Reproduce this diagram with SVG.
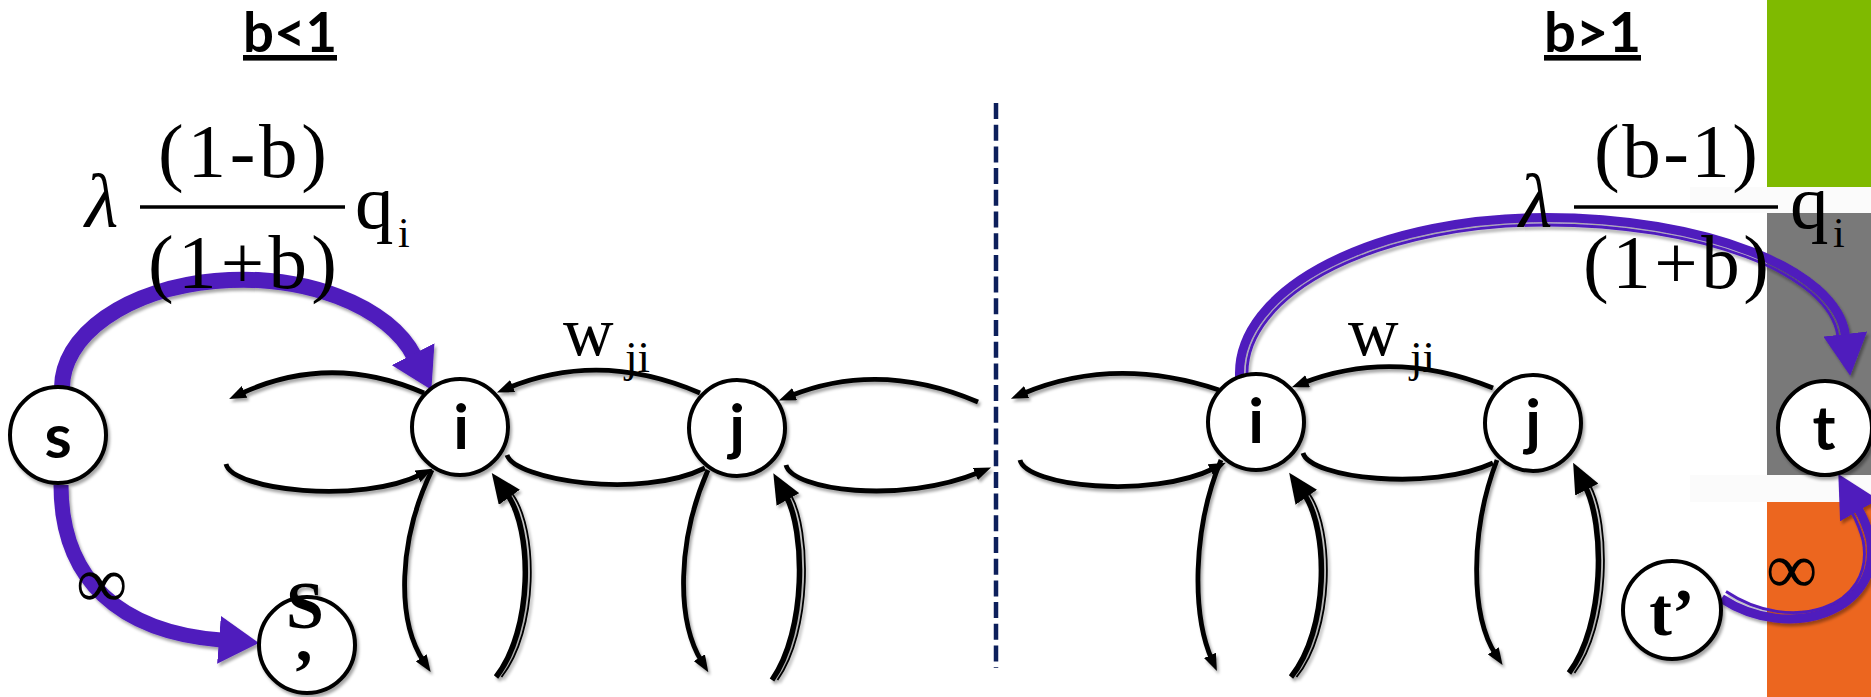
<svg xmlns="http://www.w3.org/2000/svg" width="1871" height="697" viewBox="0 0 1871 697">
<style>
.node{fill:#fff;stroke:#000;stroke-width:4}
.lbl{font-family:Lato,"Liberation Sans",sans-serif;font-weight:bold;font-size:62px;fill:#000;text-anchor:middle}
.slbl{font-family:"Liberation Serif","DejaVu Serif",serif;font-weight:bold;font-size:68px;fill:#000;text-anchor:middle}
.title{font-family:Lato,"Liberation Sans",sans-serif;font-weight:bold;font-size:56px;fill:#000;text-decoration:underline}
.m{font-family:"Liberation Serif","DejaVu Serif",serif;font-size:77px;fill:#000}
.sub{font-family:"Liberation Serif","DejaVu Serif",serif;font-size:42px;fill:#000}
.w{font-family:"Liberation Serif","DejaVu Serif",serif;font-size:70px;fill:#000}
.ji{font-family:"Liberation Serif","DejaVu Serif",serif;font-size:45px;fill:#000}
.inf{font-family:"Liberation Serif","DejaVu Serif",serif;font-size:72px;fill:#000}
.bar{stroke:#000;stroke-width:3.5}
.c{fill:none;stroke:#000;stroke-width:4.8}
.cd{fill:none;stroke:#000;stroke-width:5.5}
.ct{fill:none;stroke:#000;stroke-width:1.8}
.p{fill:none;stroke:#4f1bbd}
</style>
<defs>
<filter id="sh" x="-10%" y="-10%" width="120%" height="120%">
<feDropShadow dx="2" dy="3" stdDeviation="1.5" flood-color="#000" flood-opacity="0.35"/>
</filter>
<marker id="ah" viewBox="0 0 17 13" refX="5" refY="6.5" markerWidth="17" markerHeight="13" markerUnits="userSpaceOnUse" orient="auto"><path d="M0,0 L17,6.5 L0,13 z" fill="#000"/></marker>
<marker id="ahB" viewBox="0 0 30 26" refX="4" refY="13" markerWidth="30" markerHeight="26" markerUnits="userSpaceOnUse" orient="auto"><path d="M0,0 L30,13 L0,26 z" fill="#000"/></marker>
<marker id="ahP" viewBox="0 0 40 48" refX="2" refY="24" markerWidth="40" markerHeight="48" markerUnits="userSpaceOnUse" orient="auto"><path d="M0,0 L40,24 L0,48 z" fill="#4f1bbd"/></marker>
<marker id="ahP2" viewBox="0 0 42 44" refX="2" refY="22" markerWidth="42" markerHeight="44" markerUnits="userSpaceOnUse" orient="auto"><path d="M0,0 L42,22 L0,44 z" fill="#4f1bbd"/></marker>
</defs>

<g id="background">
<rect x="1767" y="0" width="104" height="187" fill="#7fba00"/>
<rect x="1690" y="187" width="181" height="26" fill="#fbfbfb"/>
<rect x="1767" y="213" width="104" height="262" fill="#797979"/>
<rect x="1690" y="475" width="181" height="27" fill="#fbfbfb"/>
<rect x="1767" y="502" width="104" height="195" fill="#ec661f"/>
<line x1="996" y1="103" x2="996" y2="668" stroke="#0c1f5b" stroke-width="4.5" stroke-dasharray="16 5.7"/>
</g>

<g id="titles">
<text class="title" x="243" y="52" textLength="94" lengthAdjust="spacingAndGlyphs">b&lt;1</text>
<text class="title" x="1544" y="52" textLength="97" lengthAdjust="spacingAndGlyphs">b&gt;1</text>
</g>

<g id="connectors" filter="url(#sh)">
<path class="c" d="M 424 393 Q 330 352 240 394" marker-end="url(#ah)"/>
<path class="c" d="M 226 464 C 232 490 360 505 422 474" marker-end="url(#ah)"/>
<path class="c" d="M 700 393 Q 600 350 508 388" marker-end="url(#ah)"/>
<path class="c" d="M 507 455 C 515 480 640 500 705 468"/>
<path class="c" d="M 978 402 Q 880 360 790 396" marker-end="url(#ah)"/>
<path class="c" d="M 786 465 C 792 490 900 505 980 472" marker-end="url(#ah)"/>
<path class="c" d="M 432 470 C 398 540 396 620 424 662" marker-end="url(#ah)"/>
<path class="cd" d="M 496 677 C 533 630 533 530 507 494" marker-end="url(#ahB)"/>
<path class="ct" d="M 501.5 677 C 538.5 630 538.5 530 512.5 494"/>
<path class="c" d="M 708 470 C 677 540 676 620 702 662" marker-end="url(#ah)"/>
<path class="cd" d="M 772 680 C 807 630 805 530 786 496" marker-end="url(#ahB)"/>
<path class="ct" d="M 777.5 680 C 812.5 630 810.5 530 791.5 496"/>

<path class="c" d="M 1219 390 Q 1114 355 1022 394" marker-end="url(#ah)"/>
<path class="c" d="M 1020 460 C 1026 486 1150 500 1215 468" marker-end="url(#ah)"/>
<path class="c" d="M 1493 388 Q 1393 348 1303 383" marker-end="url(#ah)"/>
<path class="c" d="M 1303 453 C 1310 478 1430 492 1493 463"/>
<path class="c" d="M 1221 460 C 1192 530 1192 615 1212 660" marker-end="url(#ah)"/>
<path class="cd" d="M 1291 677 C 1329 630 1329 530 1304 494" marker-end="url(#ahB)"/>
<path class="ct" d="M 1296.5 677 C 1334.5 630 1334.5 530 1309.5 494"/>
<path class="c" d="M 1497 460 C 1470 530 1470 615 1496 655" marker-end="url(#ah)"/>
<path class="cd" d="M 1569 673 C 1605 625 1605 525 1585 486" marker-end="url(#ahB)"/>
<path class="ct" d="M 1574.5 673 C 1610.5 625 1610.5 525 1590.5 486"/>

<path class="p" stroke-width="16" d="M 62 395 L 62 388 A 180 108 0 0 1 414 356" marker-end="url(#ahP)"/>
<path class="p" stroke-width="15" d="M 61 485 C 61 580 120 632 221 640" marker-end="url(#ahP)"/>
<path class="p" stroke-width="9" d="M 1239.5 385 L 1239.5 373 A 306.5 155.5 0 0 1 1546 217.5 C 1701.5 217.5 1837.5 268.5 1845.5 336" marker-end="url(#ahP2)"/>
<path class="p" stroke-width="2.8" d="M 1247 385 L 1247 373 A 299 148 0 0 1 1546 225 C 1698 225 1830 272.5 1838 337"/>
<path class="p" stroke-width="9" d="M 1721.5 598.5 C 1789.5 643 1882.5 611 1870.5 539.5 Q 1866.5 523.2 1858.2 508.7" marker-end="url(#ahP2)"/>
<path class="p" stroke-width="2.8" d="M 1726 591.5 C 1791 635 1875.5 608 1863.2 541 Q 1859.2 525.3 1851.8 512.5"/>
</g>

<g filter="url(#sh)">
<g id="node-s"><circle class="node" cx="58" cy="435" r="48"/><text class="lbl" x="58" y="458">s</text></g>
<g id="node-s-prime"><circle class="node" cx="307" cy="645" r="48"/><text class="slbl"><tspan x="305" y="628">S</tspan><tspan x="304" y="661">,</tspan></text></g>
<g id="node-i-left"><circle class="node" cx="460" cy="427" r="48"/><text class="lbl" x="461" y="449">i</text></g>
<g id="node-j-left"><circle class="node" cx="737" cy="428" r="48"/><text class="lbl" x="737" y="449">j</text></g>
<g id="node-i-right"><circle class="node" cx="1256" cy="422" r="48"/><text class="lbl" x="1256" y="443">i</text></g>
<g id="node-j-right"><circle class="node" cx="1533" cy="423" r="48"/><text class="lbl" x="1533" y="444">j</text></g>
<g id="node-t"><circle class="node" cx="1825" cy="428" r="47"/><text class="lbl" x="1824" y="450">t</text></g>
<g id="node-t-prime"><circle class="node" cx="1672" cy="610" r="49"/><text class="slbl" x="1672" y="635">t’</text></g>
</g>

<g id="labels">
<text class="m" x="85" y="227" font-style="italic">λ</text>
<text class="m" x="158" y="177" textLength="169" lengthAdjust="spacing">(1-b)</text>
<line class="bar" x1="140" y1="207" x2="345" y2="207"/>
<text class="m" x="148" y="288" textLength="189" lengthAdjust="spacing">(1+b)</text>
<text class="m" x="355" y="228">q</text>
<text class="sub" x="398" y="247">i</text>

<text class="m" x="1519" y="227" font-style="italic">λ</text>
<text class="m" x="1594" y="177" textLength="164" lengthAdjust="spacing">(b-1)</text>
<line class="bar" x1="1574" y1="207" x2="1778" y2="207"/>
<text class="m" x="1583" y="288" textLength="186" lengthAdjust="spacing">(1+b)</text>
<text class="m" x="1790" y="228">q</text>
<text class="sub" x="1833" y="247">i</text>

<text class="w" x="563" y="355">w</text>
<text class="ji" x="625" y="372">ji</text>
<text class="w" x="1348" y="355">w</text>
<text class="ji" x="1410" y="372">ji</text>

<text class="inf" x="76" y="607">∞</text>
<text class="inf" x="1766" y="593">∞</text>
</g>
</svg>
